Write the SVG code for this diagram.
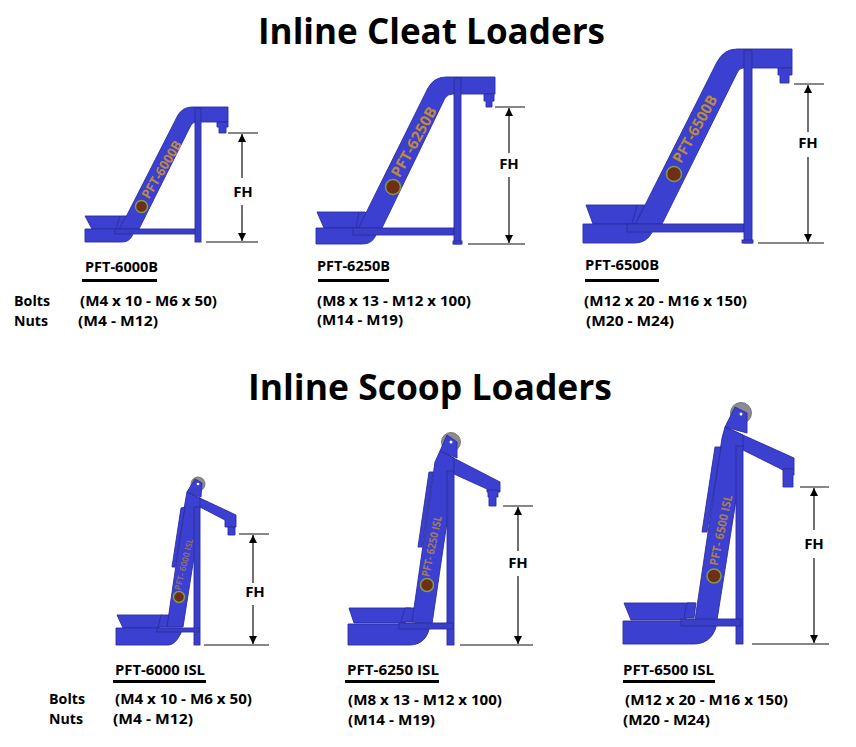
<svg xmlns="http://www.w3.org/2000/svg" width="856" height="747" viewBox="0 0 856 747">
<style>
.b{fill:#3b40d0;stroke:#2a2da0;stroke-width:.9;stroke-linejoin:round}
.c{fill:#3a3fca;stroke:#2a2da0;stroke-width:.9}
.d{fill:#6f2f12;stroke:#7f9a55;stroke-width:1.500}
.p{fill:#8b8b92;stroke:#77777f;stroke-width:1}
.w{fill:#fff}
.m{font-family:"Open Sans","Liberation Sans",sans-serif;font-weight:700;fill:#bb8a3e;text-anchor:middle}
.t{font-family:"Open Sans","Liberation Sans",sans-serif;font-weight:700;fill:#000}
.h{font-size:36px}
.s{font-size:14px}
.f{font-size:15px;text-anchor:middle}
.u{stroke:#000;stroke-width:3;fill:none}
.l{stroke:#111;stroke-width:1.200;fill:none}
.a{stroke:#111;stroke-width:1.200;fill:none;marker-end:url(#ah)}
</style>
<defs>
<marker id="ah" markerWidth="10" markerHeight="9" refX="8" refY="4" orient="auto" markerUnits="userSpaceOnUse"><path d="M0 0L8 4L0 8Z" fill="#000"/></marker>
</defs>
<rect width="856" height="747" fill="#fff"/>
<text class="t h" x="258" y="44" textLength="347" lengthAdjust="spacingAndGlyphs">Inline Cleat Loaders</text>
<text class="t h" x="248" y="400" textLength="364" lengthAdjust="spacingAndGlyphs">Inline Scoop Loaders</text>

<g id="pft-6000b">
<path class="b" d="M85 216H120L118 229H92Z"/>
<path class="b" d="M85 229H134C133 236 130 242 122 242H85Z"/>
<path class="b" d="M120 216H127L139 229H116Z"/>
<path class="b" d="M127 215L178 115Q183 107 192 107H228V122H196Q192 122 190 127L139 229H119Z"/>
<path class="b" d="M217 122H228V127H226V133H219V127H217Z"/>
<rect class="c" x="115" y="229" width="81" height="5"/>
<rect class="c" x="195" y="108" width="6" height="134"/>
<circle class="d" cx="141.500" cy="206.500" r="6"/>
<text class="m" transform="translate(165.500 172) rotate(-59)" font-size="13" textLength="65" lengthAdjust="spacingAndGlyphs">PFT-6000B</text>
</g>

<g id="pft-6250b">
<path class="b" d="M317 212H359L357 228H324Z"/>
<path class="b" d="M316 228H378C376 238 372 244 362 244H316Z"/>
<path class="b" d="M359 212H365L382 228H356Z"/>
<path class="b" d="M359 227L428 88Q434 77 446 77H495V94H453Q448 94 445 98L382 228H357Z"/>
<path class="b" d="M484 94H494V101H492V107H486V101H484Z"/>
<rect class="c" x="353" y="228" width="101" height="7"/>
<rect class="c" x="454" y="78" width="7" height="166"/>
<rect class="c" x="453" y="241" width="9" height="3"/>
<circle class="d" cx="393" cy="187" r="7.500"/>
<text class="m" transform="translate(418.500 144.500) rotate(-61)" font-size="15" textLength="78" lengthAdjust="spacingAndGlyphs">PFT-6250B</text>
</g>

<g id="pft-6500b">
<path class="b" d="M586 205H637L633 224H593Z"/>
<path class="b" d="M583 224H655C652 236 646 243 634 243H583Z"/>
<path class="b" d="M637 205H645L662 224H632Z"/>
<path class="b" d="M636 223L717 62Q724 49 737 49H792V68H743Q739 68 737 73L662 224H636Z"/>
<path class="b" d="M778 68H792V75H789V83H780V75H778Z"/>
<rect class="c" x="627" y="224" width="117" height="8"/>
<rect class="c" x="744" y="50" width="8" height="193"/>
<rect class="c" x="742" y="240" width="11" height="3"/>
<circle class="d" cx="674" cy="174" r="7.500"/>
<text class="m" transform="translate(699.500 131.500) rotate(-60.500)" font-size="15" textLength="75" lengthAdjust="spacingAndGlyphs">PFT-6500B</text>
</g>

<g id="pft-6000-isl">
<path class="b" d="M117 615H162L159 628H123Z"/>
<path class="b" d="M116 628H181V633C178 639 174 645 168 645H116Z"/>
<path class="b" d="M161 615H170L167 627H158Z"/>
<circle class="p" cx="198" cy="484" r="7"/>
<path class="b" d="M187 492L236 515V527H225V520L200 507L194 507Z"/>
<path class="b" d="M167 627L185 503L187 492L200 498V507L194 557L183 627Z"/>
<path class="b" d="M181 508L185 507L175 567L172 567Z"/>
<path class="b" d="M195 479L202 483L201 497L187 492Z"/>
<circle class="w" cx="198" cy="484" r="1.300"/>
<path class="b" d="M228 527H235V535H228Z"/>
<rect class="c" x="194" y="507" width="6" height="138"/>
<rect class="c" x="157" y="628" width="42" height="4"/>
<circle class="d" cx="179" cy="597" r="5.500"/>
<text class="m" transform="translate(187 565) rotate(-76)" font-size="9" fill-opacity=".6" textLength="53" lengthAdjust="spacingAndGlyphs">PFT- 6000 ISL</text>
</g>

<g id="pft-6250-isl">
<path class="b" d="M349 608H411L405 623H354Z"/>
<path class="b" d="M348 624H430C429 636 422 645 410 645H348Z"/>
<path class="b" d="M405 608H414L412 622H401Z"/>
<circle class="p" cx="451" cy="442" r="9.500"/>
<path class="b" d="M440 451L500 482V492H487V489L454 474L447 474Z"/>
<path class="b" d="M412 622L435 462L440 451L454 458V471L447 522L432 624Z"/>
<path class="b" d="M429 472L433 472L422 547L418 547Z"/>
<path class="b" d="M447 435L457 442L457 458L440 451Z"/>
<circle class="w" cx="451" cy="442" r="1.500"/>
<path class="b" d="M488 490H498V497H496V506H489V497H488Z"/>
<rect class="c" x="447" y="471" width="7" height="174"/>
<rect class="c" x="399" y="623" width="54" height="6"/>
<circle class="d" cx="427" cy="585" r="6.500"/>
<text class="m" transform="translate(435.500 547) rotate(-78)" font-size="11" fill-opacity=".8" textLength="62" lengthAdjust="spacingAndGlyphs">PFT- 6250 ISL</text>
</g>

<g id="pft-6500-isl">
<path class="b" d="M624 603H695L685 620H631Z"/>
<path class="b" d="M623 621H717C716 634 708 644 694 644H623Z"/>
<path class="b" d="M687 603H696L694 618H684Z"/>
<circle class="p" cx="741" cy="413" r="10.500"/>
<path class="b" d="M725 427L794 458V469H783V470L743 450L736 450Z"/>
<path class="b" d="M695 620L722 438L725 427L743 435V446L736 500L717 620Z"/>
<path class="b" d="M715 447L721 447L707 532L702 532Z"/>
<path class="b" d="M735 407L747 413L747 433L725 427Z"/>
<circle class="w" cx="741" cy="414" r="1.500"/>
<path class="b" d="M783 469H794V475H793V487H783Z"/>
<rect class="c" x="736" y="446" width="7" height="198"/>
<rect class="c" x="681" y="619" width="60" height="7"/>
<circle class="d" cx="714" cy="576" r="7"/>
<text class="m" transform="translate(725 531) rotate(-78)" font-size="12" fill-opacity=".85" textLength="72" lengthAdjust="spacingAndGlyphs">PFT- 6500 ISL</text>
</g>

<g id="connectors">
<path class="l" d="M228 133H258M206 242H258"/>
<path class="a" d="M242 178V134"/><path class="a" d="M242 205V241"/>
<path class="l" d="M495 107H525M468 244H525"/>
<path class="a" d="M509 153V108"/><path class="a" d="M509 177V243"/>
<path class="l" d="M794 84H824M758 243H824"/>
<path class="a" d="M808 132V85"/><path class="a" d="M808 157V242"/>
<path class="l" d="M239 534H269M204 645H269"/>
<path class="a" d="M253 583V535"/><path class="a" d="M253 605V644"/>
<path class="l" d="M503 506H533M460 645H533"/>
<path class="a" d="M518 551V507"/><path class="a" d="M518 576V644"/>
<path class="l" d="M800 487H829M752 644H829"/>
<path class="a" d="M814 530V488"/><path class="a" d="M814 558V643"/>
</g>

<g id="labels">
<text class="t f" x="243" y="197">FH</text>
<text class="t f" x="509" y="169">FH</text>
<text class="t f" x="808" y="148">FH</text>
<text class="t f" x="255" y="597">FH</text>
<text class="t f" x="518" y="568">FH</text>
<text class="t f" x="814" y="549">FH</text>

<text class="t s" x="85" y="272" textLength="73" lengthAdjust="spacingAndGlyphs">PFT-6000B</text>
<path class="u" d="M82 280.500H157"/>
<text class="t s" x="317" y="271" textLength="73" lengthAdjust="spacingAndGlyphs">PFT-6250B</text>
<path class="u" d="M318 280.500H389"/>
<text class="t s" x="585" y="270" textLength="74" lengthAdjust="spacingAndGlyphs">PFT-6500B</text>
<path class="u" d="M585 280.500H659"/>
<text class="t s" x="14" y="306" textLength="36" lengthAdjust="spacingAndGlyphs">Bolts</text>
<text class="t s" x="14" y="326" textLength="34" lengthAdjust="spacingAndGlyphs">Nuts</text>
<text class="t s" x="80" y="306" textLength="137" lengthAdjust="spacingAndGlyphs">(M4 x 10 - M6 x 50)</text>
<text class="t s" x="78" y="326" textLength="80" lengthAdjust="spacingAndGlyphs">(M4 - M12)</text>
<text class="t s" x="317" y="306" textLength="154" lengthAdjust="spacingAndGlyphs">(M8 x 13 - M12 x 100)</text>
<text class="t s" x="317" y="325" textLength="86" lengthAdjust="spacingAndGlyphs">(M14 - M19)</text>
<text class="t s" x="584" y="306" textLength="163" lengthAdjust="spacingAndGlyphs">(M12 x 20 - M16 x 150)</text>
<text class="t s" x="586" y="326" textLength="88" lengthAdjust="spacingAndGlyphs">(M20 - M24)</text>

<text class="t s" x="115" y="675" textLength="90" lengthAdjust="spacingAndGlyphs">PFT-6000 ISL</text>
<path class="u" d="M113 681.500H206"/>
<text class="t s" x="347" y="675" textLength="92" lengthAdjust="spacingAndGlyphs">PFT-6250 ISL</text>
<path class="u" d="M345 681.500H439"/>
<text class="t s" x="623" y="675" textLength="91" lengthAdjust="spacingAndGlyphs">PFT-6500 ISL</text>
<path class="u" d="M623 681.500H715"/>
<text class="t s" x="49" y="704" textLength="36" lengthAdjust="spacingAndGlyphs">Bolts</text>
<text class="t s" x="49" y="724" textLength="34" lengthAdjust="spacingAndGlyphs">Nuts</text>
<text class="t s" x="115" y="704" textLength="137" lengthAdjust="spacingAndGlyphs">(M4 x 10 - M6 x 50)</text>
<text class="t s" x="113" y="724" textLength="80" lengthAdjust="spacingAndGlyphs">(M4 - M12)</text>
<text class="t s" x="348" y="705" textLength="154" lengthAdjust="spacingAndGlyphs">(M8 x 13 - M12 x 100)</text>
<text class="t s" x="348" y="725" textLength="87" lengthAdjust="spacingAndGlyphs">(M14 - M19)</text>
<text class="t s" x="625" y="705" textLength="163" lengthAdjust="spacingAndGlyphs">(M12 x 20 - M16 x 150)</text>
<text class="t s" x="623" y="725" textLength="87" lengthAdjust="spacingAndGlyphs">(M20 - M24)</text>
</g>
</svg>
